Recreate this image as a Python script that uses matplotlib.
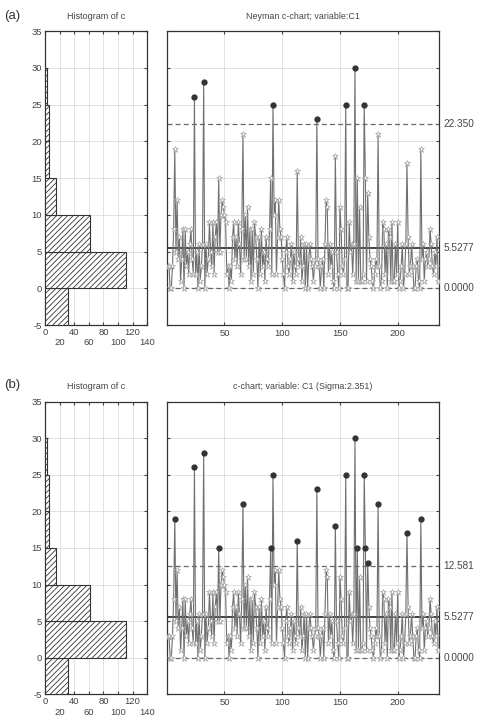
import matplotlib
matplotlib.use("Agg")
import matplotlib.pyplot as plt
import matplotlib.transforms as mtransforms
import numpy as np

plt.rcParams['font.family'] = ['Liberation Sans', 'DejaVu Sans']
plt.rcParams['axes.unicode_minus'] = False
plt.rcParams['hatch.linewidth'] = 0.6
plt.rcParams['hatch.color'] = '#333333'

# counts per sample
c = [3, 3, 0, 0, 3, 8, 19, 5, 12, 4,
     7, 1, 4, 8, 0, 8, 3, 5, 2, 6,
     8, 4, 2, 26, 2, 5, 0, 6, 1, 3,
     6, 28, 0, 6, 2, 4, 9, 5, 3, 9,
     2, 7, 9, 5, 15, 5, 10, 12, 11, 10,
     9, 2, 3, 0, 3, 1, 7, 9, 4, 7,
     3, 9, 6, 2, 8, 21, 4, 10, 4, 11,
     3, 8, 1, 8, 2, 9, 7, 4, 0, 7,
     2, 8, 3, 5, 1, 7, 4, 3, 8, 15,
     2, 25, 10, 12, 2, 7, 12, 8, 7, 4,
     2, 0, 5, 7, 3, 2, 4, 6, 1, 5,
     3, 2, 16, 4, 3, 7, 1, 3, 6, 0,
     6, 0, 4, 6, 4, 3, 1, 3, 4, 23,
     4, 3, 0, 3, 4, 0, 6, 12, 11, 2,
     6, 3, 5, 1, 0, 18, 5, 2, 0, 11,
     8, 3, 2, 4, 25, 0, 0, 9, 5, 6,
     2, 6, 30, 1, 15, 1, 11, 1, 1, 2,
     25, 15, 1, 13, 7, 4, 3, 1, 0, 2,
     4, 3, 21, 3, 0, 1, 9, 8, 2, 6,
     0, 8, 7, 1, 9, 1, 1, 6, 2, 9,
     0, 1, 3, 6, 0, 2, 6, 17, 7, 2,
     3, 6, 3, 0, 0, 3, 4, 1, 0, 19,
     4, 6, 1, 4, 5, 3, 4, 8, 6, 3,
     2, 5, 3, 7, 1]

bin_lo = [-5, 0, 5, 10, 15, 20, 25]
hist_counts = [32, 111, 62, 15, 6, 6, 3]

center = 5.5277
lcl = 0.0
ucl_a = 22.350
ucl_b = 12.581

TXT = '#444444'
EDGE = '#333333'


def draw_hist(ax):
    ax.barh(bin_lo, hist_counts, height=5, align='edge', color='white',
            edgecolor=EDGE, hatch='//////', linewidth=0.8, zorder=3)
    ax.set_xlim(0, 140)
    ax.set_ylim(-5, 35)
    ax.set_yticks(range(-5, 36, 5))
    xt = list(range(0, 141, 20))
    ax.set_xticks(xt)
    ax.set_xticklabels([str(v) if i % 2 == 0 else '\n' + str(v)
                        for i, v in enumerate(xt)])
    ax.grid(True, color='#dddddd', lw=0.6, zorder=0)
    ax.tick_params(direction='in', length=2.5, labelsize=6.8, colors=TXT,
                   top=True, right=True, pad=2)
    for s in ax.spines.values():
        s.set_color(EDGE)
        s.set_linewidth(0.9)
    ax.set_title('Histogram of c', fontsize=6.5, color=TXT, pad=9)


def draw_chart(ax, ucl, title):
    x = np.arange(1, len(c) + 1)
    y = np.array(c)
    ax.axhline(center, color='#333333', lw=1.3, zorder=2)
    ax.axhline(ucl, color='#666666', lw=0.9, ls=(0, (4, 2.5)), zorder=2)
    ax.axhline(lcl, color='#666666', lw=0.9, ls=(0, (4, 2.5)), zorder=2)
    ax.plot(x, y, color='#707070', lw=0.8, zorder=3)
    inc = y <= ucl
    ax.plot(x[inc], y[inc], ls='none', marker='*', ms=4.8, mfc='white',
            mec='#a0a0a0', mew=0.5, zorder=4)
    ax.plot(x[~inc], y[~inc], ls='none', marker='o', ms=3.5,
            color='#333333', zorder=5)
    ax.set_xlim(0, 236)
    ax.set_ylim(-5, 35)
    ax.set_xticks([50, 100, 150, 200])
    ax.set_yticks(range(-5, 36, 5))
    ax.set_yticklabels([])
    ax.grid(True, color='#dddddd', lw=0.6, zorder=0)
    ax.tick_params(direction='in', length=2.5, labelsize=6.8, colors=TXT,
                   top=True, right=True, pad=3)
    for s in ax.spines.values():
        s.set_color(EDGE)
        s.set_linewidth(0.9)
    ax.set_title(title, fontsize=6.4, color=TXT, pad=9)
    tr = mtransforms.blended_transform_factory(ax.transAxes, ax.transData)
    for val, lab in [(ucl, '%.3f' % ucl), (center, '5.5277'),
                     (lcl, '0.0000')]:
        ax.text(1.015, val, lab, transform=tr, va='center', ha='left',
                fontsize=7.2, color=TXT)


fig = plt.figure(figsize=(4.81, 7.21), dpi=100)

ax_ha = fig.add_axes([0.0936, 0.5492, 0.2127, 0.4078])
ax_ca = fig.add_axes([0.3466, 0.5492, 0.5667, 0.4078])
ax_hb = fig.add_axes([0.0936, 0.0370, 0.2127, 0.4060])
ax_cb = fig.add_axes([0.3466, 0.0370, 0.5667, 0.4060])

draw_hist(ax_ha)
draw_chart(ax_ca, ucl_a, 'Neyman c-chart; variable:C1')
draw_hist(ax_hb)
draw_chart(ax_cb, ucl_b, 'c-chart; variable: C1 (Sigma:2.351)')

fig.text(0.008, 0.978, '(a)', fontsize=9.5, color='#333333', va='center')
fig.text(0.008, 0.466, '(b)', fontsize=9.5, color='#333333', va='center')

fig.savefig('out.png', dpi=100)
